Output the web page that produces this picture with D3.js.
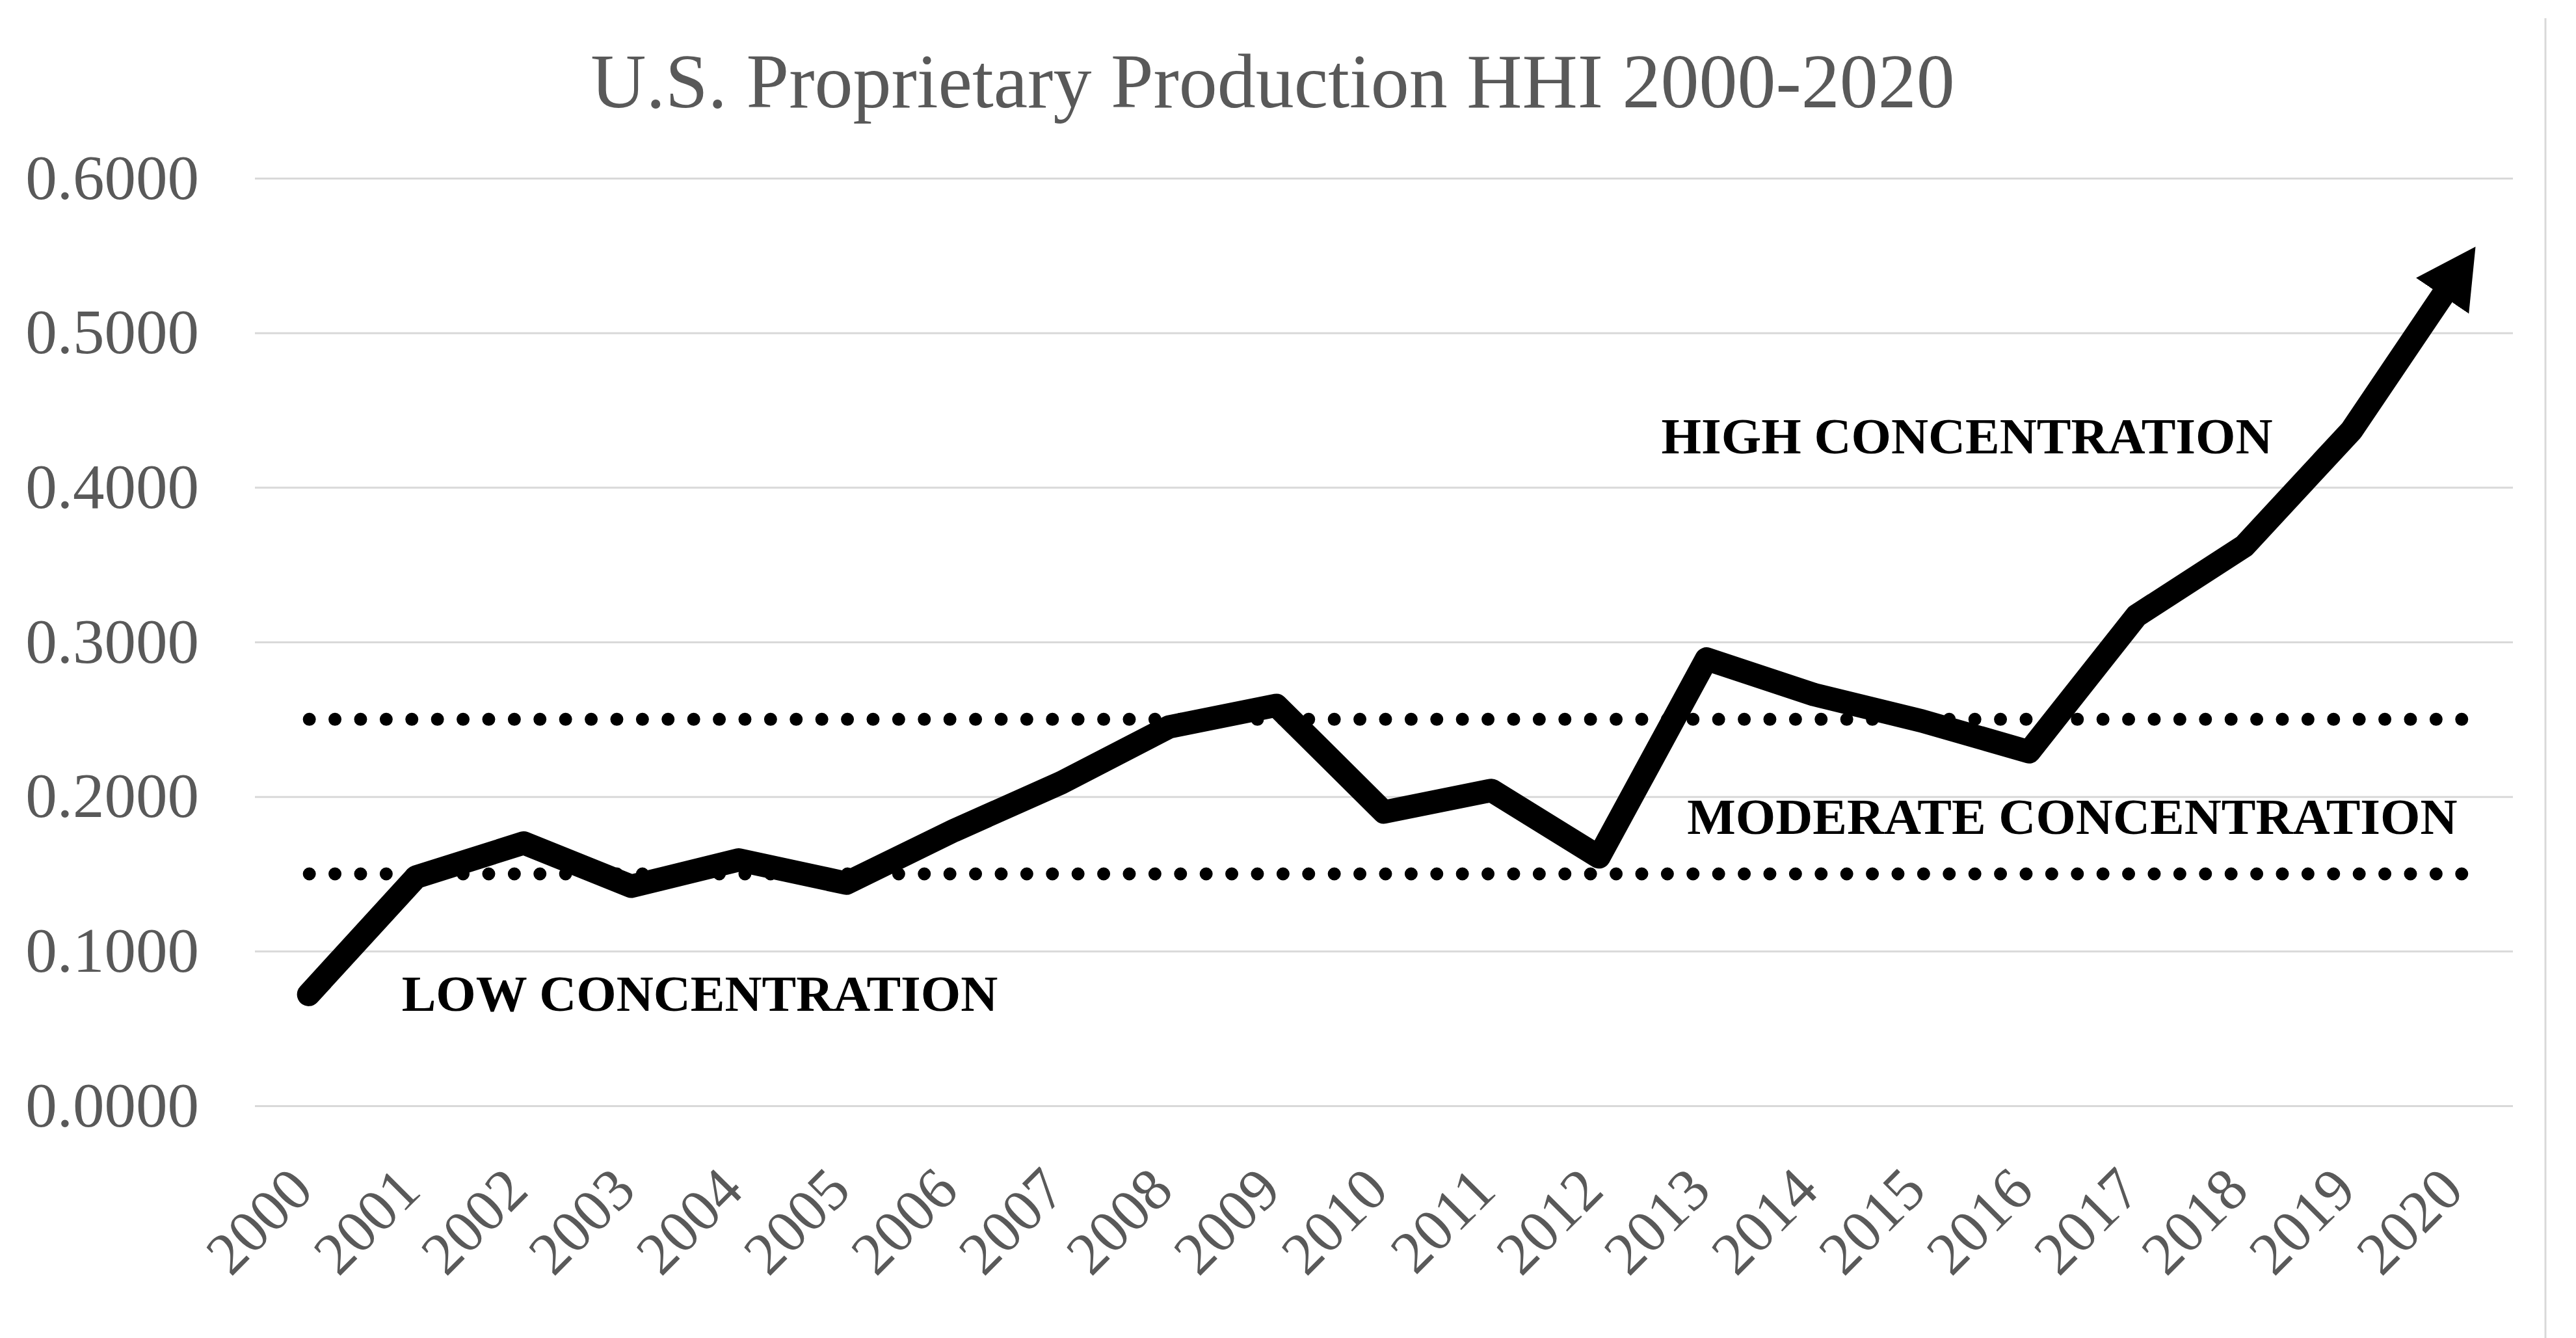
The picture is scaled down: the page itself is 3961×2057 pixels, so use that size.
<!DOCTYPE html>
<html><head><meta charset="utf-8">
<script src="https://cdn.jsdelivr.net/npm/d3@7"></script>
<style>body{margin:0;background:#fff} text{font-family:"Liberation Serif","Times New Roman",serif}</style>
</head><body>
<svg id="c" width="3961" height="2057"></svg>
<script>
const title = "U.S. Proprietary Production HHI 2000-2020";
const years = ["2000","2001","2002","2003","2004","2005","2006","2007","2008","2009","2010",
               "2011","2012","2013","2014","2015","2016","2017","2018","2019","2020"];
const hhi = [0.072,0.148,0.170,0.142,0.159,0.144,0.178,0.209,0.245,0.259,0.190,
             0.204,0.161,0.289,0.266,0.249,0.229,0.317,0.362,0.437,0.540];
const yTicks = [0,0.1,0.2,0.3,0.4,0.5,0.6];
const thresholds = [0.15,0.25];
const zoneLabels = ["LOW CONCENTRATION","MODERATE CONCENTRATION","HIGH CONCENTRATION"];

(function(){
const W = 3961, H = 2057;
const svg = d3.select("#c");
svg.append("rect").attr("width",W).attr("height",H).attr("fill","#fff");

const pLeft = 392, pRight = 3864, pTop = 274, pBottom = 1700;
const x = d3.scalePoint().domain(years).range([pLeft,pRight]).padding(0.5);
const y = d3.scaleLinear().domain([0,0.6]).range([pBottom,pTop]);
const step = x.step();

svg.append("line").attr("x1",3914).attr("x2",3914).attr("y1",28).attr("y2",H)
  .attr("stroke","#d9d9d9").attr("stroke-width",3);

svg.append("text").attr("x",1957).attr("y",165).attr("text-anchor","middle")
  .attr("font-size",118).attr("fill","#595959").text(title);

const yAxis = d3.axisLeft(y).tickValues(yTicks).tickFormat(d3.format(".4f"))
  .tickSize(-(pRight-pLeft)).tickPadding(86);
const gy = svg.append("g").attr("transform",`translate(${pLeft},0)`).call(yAxis);
gy.select(".domain").remove();
gy.selectAll(".tick line").attr("stroke","#d9d9d9").attr("stroke-width",3);
gy.selectAll(".tick text").attr("font-size",97).attr("fill","#595959")
  .attr("font-family",'"Liberation Serif","Times New Roman",serif');

const xAxis = d3.axisBottom(x).tickSize(0);
const gx = svg.append("g").attr("transform",`translate(0,${pBottom})`).call(xAxis);
gx.select(".domain").remove();
gx.selectAll(".tick text").attr("font-size",92).attr("fill","#595959")
  .attr("font-family",'"Liberation Serif","Times New Roman",serif')
  .attr("text-anchor","end").attr("x",0).attr("y",0).attr("dy",0)
  .attr("transform","translate(10,134) rotate(-45)");

svg.selectAll("line.thr").data(thresholds).enter().append("line")
  .attr("class","thr")
  .attr("x1",x(years[0])+1).attr("x2",x(years[years.length-1])+34)
  .attr("y1",d=>y(d)).attr("y2",d=>y(d))
  .attr("stroke","#000").attr("stroke-width",20)
  .attr("stroke-linecap","round").attr("stroke-dasharray","0 39.4");

const xi = i => x(years[0]) + i*step;
const zonePos = [[0.865,0.0614],[12.82,0.1758],[12.58,0.4219]];
svg.selectAll("text.zone").data(zoneLabels).enter().append("text")
  .attr("class","zone")
  .attr("x",(d,i)=>xi(zonePos[i][0])).attr("y",(d,i)=>y(zonePos[i][1]))
  .attr("font-size",79).attr("font-weight","bold").attr("fill","#000")
  .text(d=>d);

const defs = svg.append("defs");
defs.append("marker").attr("id","arrow").attr("markerUnits","userSpaceOnUse")
  .attr("viewBox","0 0 91 98").attr("markerWidth",91).attr("markerHeight",98)
  .attr("refX",46).attr("refY",49).attr("orient","auto")
  .append("path").attr("d","M0,0L91,49L0,98Z").attr("fill","#000");

const line = d3.line().x((d,i)=>x(years[i])).y(d=>y(d));
svg.append("path").datum(hhi).attr("d",line)
  .attr("fill","none").attr("stroke","#000").attr("stroke-width",36)
  .attr("stroke-linejoin","round").attr("stroke-linecap","round")
  .attr("marker-end","url(#arrow)");
})();
</script>
</body></html>
